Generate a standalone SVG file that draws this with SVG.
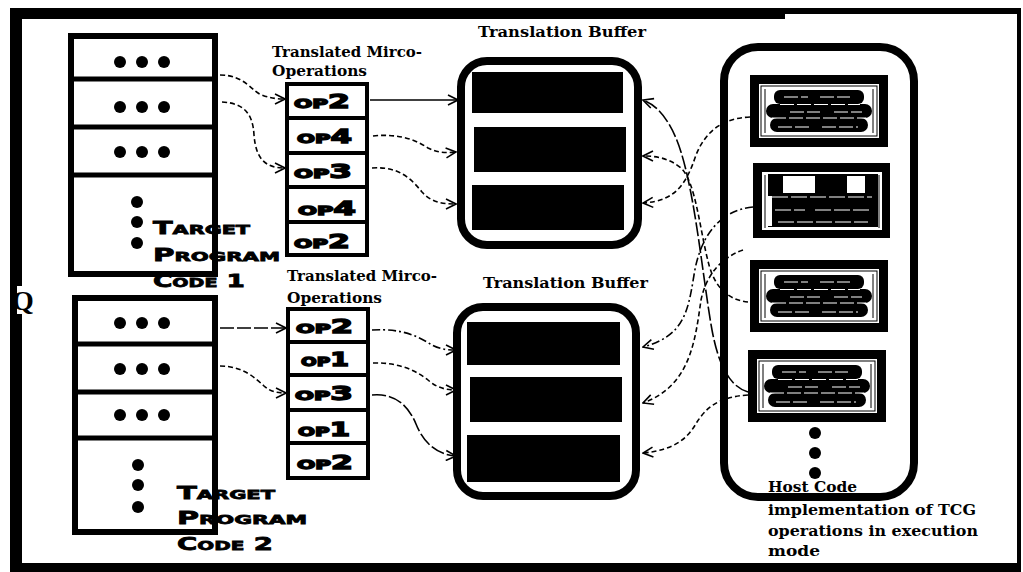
<svg xmlns="http://www.w3.org/2000/svg" width="1023" height="572" viewBox="0 0 1023 572">
  <style>
    .frame { fill: #000; }
    .box { fill: #fff; stroke: #000; }
    .sep { stroke: #000; }
    .dot { fill: #000; }
    .bar { fill: #000; }
    .label { font-family: "DejaVu Serif", "Liberation Serif", serif; font-weight: bold; font-size: 14px; fill: #000; }
    .caps { font-family: "DejaVu Sans", "Liberation Sans", sans-serif; font-weight: bold; font-variant: small-caps; font-size: 18px; fill: #000; stroke: #000; stroke-width: 0.8px; }
    .op { font-family: "DejaVu Sans", "Liberation Sans", sans-serif; font-weight: bold; font-variant: small-caps; font-size: 19px; fill: #000; stroke: #000; stroke-width: 1.4px; }
    .host { font-family: "DejaVu Serif", "Liberation Serif", serif; font-weight: bold; font-size: 15px; fill: #000; }
    .conn { fill: none; stroke: #000; stroke-width: 1.6; marker-end: url(#barb); }
    .solid { }
    .dash { stroke-dasharray: 5 3; }
    .dashdot { stroke-dasharray: 8 3 2 3; }
    .longdash { stroke-dasharray: 14 3; }
  </style>
  <defs>
    <marker id="barb" viewBox="0 0 12 12" refX="11" refY="6" markerWidth="12" markerHeight="12" markerUnits="userSpaceOnUse" orient="auto">
      <path d="M1,1 L11,6 L1,11" fill="none" stroke="#000" stroke-width="1.6"/>
    </marker>
    <!-- host code block: black frame with smeared code lines -->
    <g id="hostBlock">
      <rect x="0" y="0" width="138" height="72" fill="#000"/>
      <rect x="9" y="9" width="120" height="54" fill="#fff"/>
      <rect x="11" y="11" width="116" height="50" fill="none" stroke="#000" stroke-width="1"/>
      <rect x="24" y="15" width="90" height="14" rx="6" class="bar"/>
      <rect x="16" y="29" width="106" height="14" rx="7" class="bar"/>
      <rect x="20" y="43" width="98" height="14" rx="7" class="bar"/>
      <path d="M30,29.5 H110 M22,43 H116 M28,52 H60 M72,52 H108 M40,37 H70 M84,37 H112 M34,22 H58 M70,22 H100" stroke="#fff" stroke-width="1" stroke-dasharray="14 3"/>
      <path d="M15,14 V58 M123,14 V58" stroke="#000" stroke-width="1"/>
    </g>
  </defs>

  <rect x="0" y="0" width="1023" height="572" fill="#fff"/>

  <!-- outer frame -->
  <g id="frame">
    <rect class="frame" x="10" y="8" width="775" height="11"/>
    <rect class="frame" x="785" y="8" width="236" height="6"/>
    <rect class="frame" x="10" y="8" width="12" height="564"/>
    <rect class="frame" x="10" y="563" width="1011" height="9"/>
    <rect class="frame" x="1017" y="8" width="4" height="564"/>
  </g>
  <rect x="17" y="286" width="16" height="28" fill="#fff"/>
  <text x="12" y="310" font-family="Liberation Serif, serif" font-weight="bold" font-size="28" fill="#000">Q</text>

  <!-- target program code 1 -->
  <g id="prog1">
    <rect class="box" x="71" y="36" width="144" height="238" stroke-width="6"/>
    <path class="sep" d="M71,79 H215 M71,127 H215 M71,175 H215" stroke-width="5"/>
    <circle class="dot" cx="120" cy="62" r="6"/><circle class="dot" cx="142" cy="62" r="6"/><circle class="dot" cx="164" cy="62" r="6"/>
    <circle class="dot" cx="120" cy="107" r="6"/><circle class="dot" cx="142" cy="107" r="6"/><circle class="dot" cx="164" cy="107" r="6"/>
    <circle class="dot" cx="120" cy="152" r="6"/><circle class="dot" cx="142" cy="152" r="6"/><circle class="dot" cx="164" cy="152" r="6"/>
    <circle class="dot" cx="137" cy="202" r="6"/><circle class="dot" cx="137" cy="222" r="6"/><circle class="dot" cx="137" cy="243" r="6"/>
    <text class="caps" x="153" y="234" textLength="97" lengthAdjust="spacingAndGlyphs">Target</text>
    <text class="caps" x="153" y="261" textLength="127" lengthAdjust="spacingAndGlyphs">Program</text>
    <text class="caps" x="153" y="287" textLength="92" lengthAdjust="spacingAndGlyphs">Code 1</text>
  </g>

  <!-- micro-operations 1 -->
  <g id="micro1">
    <text class="label" x="272" y="57" textLength="150" lengthAdjust="spacingAndGlyphs">Translated Mirco-</text>
    <text class="label" x="272" y="76" textLength="95" lengthAdjust="spacingAndGlyphs">Operations</text>
    <rect class="box" x="287" y="84" width="80" height="171" stroke-width="4"/>
    <path class="sep" d="M287,118 H367 M287,153 H367 M287,187 H367 M287,222 H367" stroke-width="4"/>
    <text class="op" x="294" y="108" textLength="56" lengthAdjust="spacingAndGlyphs">op2</text>
    <text class="op" x="297" y="143" textLength="55" lengthAdjust="spacingAndGlyphs">op4</text>
    <text class="op" x="294" y="178" textLength="58" lengthAdjust="spacingAndGlyphs">op3</text>
    <text class="op" x="298" y="215" textLength="58" lengthAdjust="spacingAndGlyphs">op4</text>
    <text class="op" x="294" y="248" textLength="56" lengthAdjust="spacingAndGlyphs">op2</text>
  </g>

  <!-- translation buffer 1 -->
  <g id="buffer1">
    <text class="label" x="478" y="37" textLength="168" lengthAdjust="spacingAndGlyphs">Translation Buffer</text>
    <rect x="461" y="61" width="177" height="184" rx="26" fill="#fff" stroke="#000" stroke-width="8"/>
    <rect class="bar" x="472" y="72" width="151" height="41"/>
    <rect class="bar" x="474" y="127" width="152" height="45"/>
    <rect class="bar" x="472" y="185" width="152" height="45"/>
  </g>

  <!-- target program code 2 -->
  <g id="prog2">
    <rect class="box" x="75" y="298" width="140" height="234" stroke-width="6"/>
    <path class="sep" d="M75,344 H215 M75,392 H215 M75,438 H215" stroke-width="5"/>
    <circle class="dot" cx="120" cy="323" r="6"/><circle class="dot" cx="142" cy="323" r="6"/><circle class="dot" cx="164" cy="323" r="6"/>
    <circle class="dot" cx="120" cy="369" r="6"/><circle class="dot" cx="142" cy="369" r="6"/><circle class="dot" cx="164" cy="369" r="6"/>
    <circle class="dot" cx="120" cy="415" r="6"/><circle class="dot" cx="142" cy="415" r="6"/><circle class="dot" cx="164" cy="415" r="6"/>
    <circle class="dot" cx="138" cy="465" r="6"/><circle class="dot" cx="138" cy="485" r="6"/><circle class="dot" cx="138" cy="507" r="6"/>
    <text class="caps" x="177" y="499" textLength="98" lengthAdjust="spacingAndGlyphs">Target</text>
    <text class="caps" x="177" y="524" textLength="130" lengthAdjust="spacingAndGlyphs">Program</text>
    <text class="caps" x="177" y="550" textLength="96" lengthAdjust="spacingAndGlyphs">Code 2</text>
  </g>

  <!-- micro-operations 2 -->
  <g id="micro2">
    <text class="label" x="287" y="281" textLength="150" lengthAdjust="spacingAndGlyphs">Translated Mirco-</text>
    <text class="label" x="287" y="303" textLength="95" lengthAdjust="spacingAndGlyphs">Operations</text>
    <rect class="box" x="288" y="309" width="80" height="169" stroke-width="4"/>
    <path class="sep" d="M288,342 H368 M288,375 H368 M288,410 H368 M288,443 H368" stroke-width="4"/>
    <text class="op" x="296" y="333" textLength="57" lengthAdjust="spacingAndGlyphs">op2</text>
    <text class="op" x="301" y="366" textLength="48" lengthAdjust="spacingAndGlyphs">op1</text>
    <text class="op" x="295" y="400" textLength="58" lengthAdjust="spacingAndGlyphs">op3</text>
    <text class="op" x="298" y="436" textLength="52" lengthAdjust="spacingAndGlyphs">op1</text>
    <text class="op" x="297" y="469" textLength="56" lengthAdjust="spacingAndGlyphs">op2</text>
  </g>

  <!-- translation buffer 2 -->
  <g id="buffer2">
    <text class="label" x="483" y="288" textLength="165" lengthAdjust="spacingAndGlyphs">Translation Buffer</text>
    <rect x="457" y="307" width="179" height="189" rx="26" fill="#fff" stroke="#000" stroke-width="8"/>
    <rect class="bar" x="467" y="322" width="153" height="43"/>
    <rect class="bar" x="470" y="377" width="152" height="45"/>
    <rect class="bar" x="467" y="435" width="153" height="47"/>
  </g>

  <!-- host code container -->
  <g id="hostCode">
    <rect x="724" y="47" width="190" height="450" rx="34" fill="#fff" stroke="#000" stroke-width="8"/>
    <use href="#hostBlock" x="750" y="75"/>
    <g id="hostBlock2">
      <rect x="753" y="163" width="137" height="75" fill="#000"/>
      <rect x="762" y="172" width="120" height="58" fill="#fff"/>
      <rect x="768" y="174" width="110" height="53" class="bar"/>
      <rect x="783" y="176" width="32" height="17" fill="#fff"/>
      <rect x="847" y="176" width="18" height="17" fill="#fff"/>
      <rect x="764" y="196" width="8" height="30" fill="#fff"/>
      <path d="M772,197 H872 M775,210 H805 M815,210 H870 M778,222 H868" stroke="#fff" stroke-width="1" stroke-dasharray="16 3"/>
      <path d="M765,175 V228 M879,175 V228" stroke="#000" stroke-width="1"/>
    </g>
    <use href="#hostBlock" x="750" y="260"/>
    <use href="#hostBlock" x="748" y="350"/>
    <circle class="dot" cx="815" cy="433" r="6"/>
    <circle class="dot" cx="815" cy="453" r="6"/>
    <circle class="dot" cx="815" cy="473" r="6"/>
    <text class="host" x="768" y="492" textLength="89" lengthAdjust="spacingAndGlyphs">Host Code</text>
    <text class="host" x="768" y="515" textLength="208" lengthAdjust="spacingAndGlyphs">implementation of TCG</text>
    <text class="host" x="768" y="536" textLength="210" lengthAdjust="spacingAndGlyphs">operations in execution</text>
    <text class="host" x="768" y="556" textLength="52" lengthAdjust="spacingAndGlyphs">mode</text>
  </g>

  <!-- connectors -->
  <g id="connectors">
    <!-- program code 1 to micro-operations -->
    <path class="conn dash" d="M220,75 C245,75 252,92 262,95 C270,98 276,99 285,99"/>
    <path class="conn dash" d="M222,102 C245,103 253,115 254,135 C256,160 266,168 285,168"/>
    <!-- micro-operations to buffer 1 -->
    <path class="conn solid" d="M370,100 L458,100"/>
    <path class="conn dash" d="M373,136 C400,133 418,141 428,148 C438,153 445,153 456,152"/>
    <path class="conn dash" d="M372,168 C400,166 412,180 422,192 C432,203 443,204 456,204"/>
    <!-- program code 2 to micro-operations -->
    <path class="conn longdash" d="M220,328 L286,328"/>
    <path class="conn dash" d="M220,366 C243,366 255,378 264,386 C271,392 277,393 286,393"/>
    <!-- micro-operations to buffer 2 -->
    <path class="conn dashdot" d="M372,330 C405,328 420,338 432,345 C440,349 446,350 456,350"/>
    <path class="conn dash" d="M373,363 C400,362 418,372 428,380 C437,388 446,390 456,390"/>
    <path class="conn longdash" d="M372,395 C395,393 408,405 416,424 C424,444 438,455 456,456"/>
    <!-- host code to buffers -->
    <path class="conn longdash" d="M748,392 C728,386 718,362 712,330 C703,280 696,200 681,152 C673,126 660,106 643,100"/>
    <path class="conn dash" d="M748,302 C730,300 716,290 709,265 C700,232 696,182 681,168 C669,158 656,156 643,156"/>
    <path class="conn dash" d="M750,117 C724,118 706,130 696,155 C686,185 675,201 643,203"/>
    <path class="conn dashdot" d="M753,207 C720,210 700,236 694,275 C688,312 684,336 643,347"/>
    <path class="conn dash" d="M743,250 C720,258 706,276 701,300 C695,342 690,386 643,403"/>
    <path class="conn dash" d="M748,395 C716,397 705,410 697,422 C688,438 675,450 643,453"/>
  </g>
</svg>
